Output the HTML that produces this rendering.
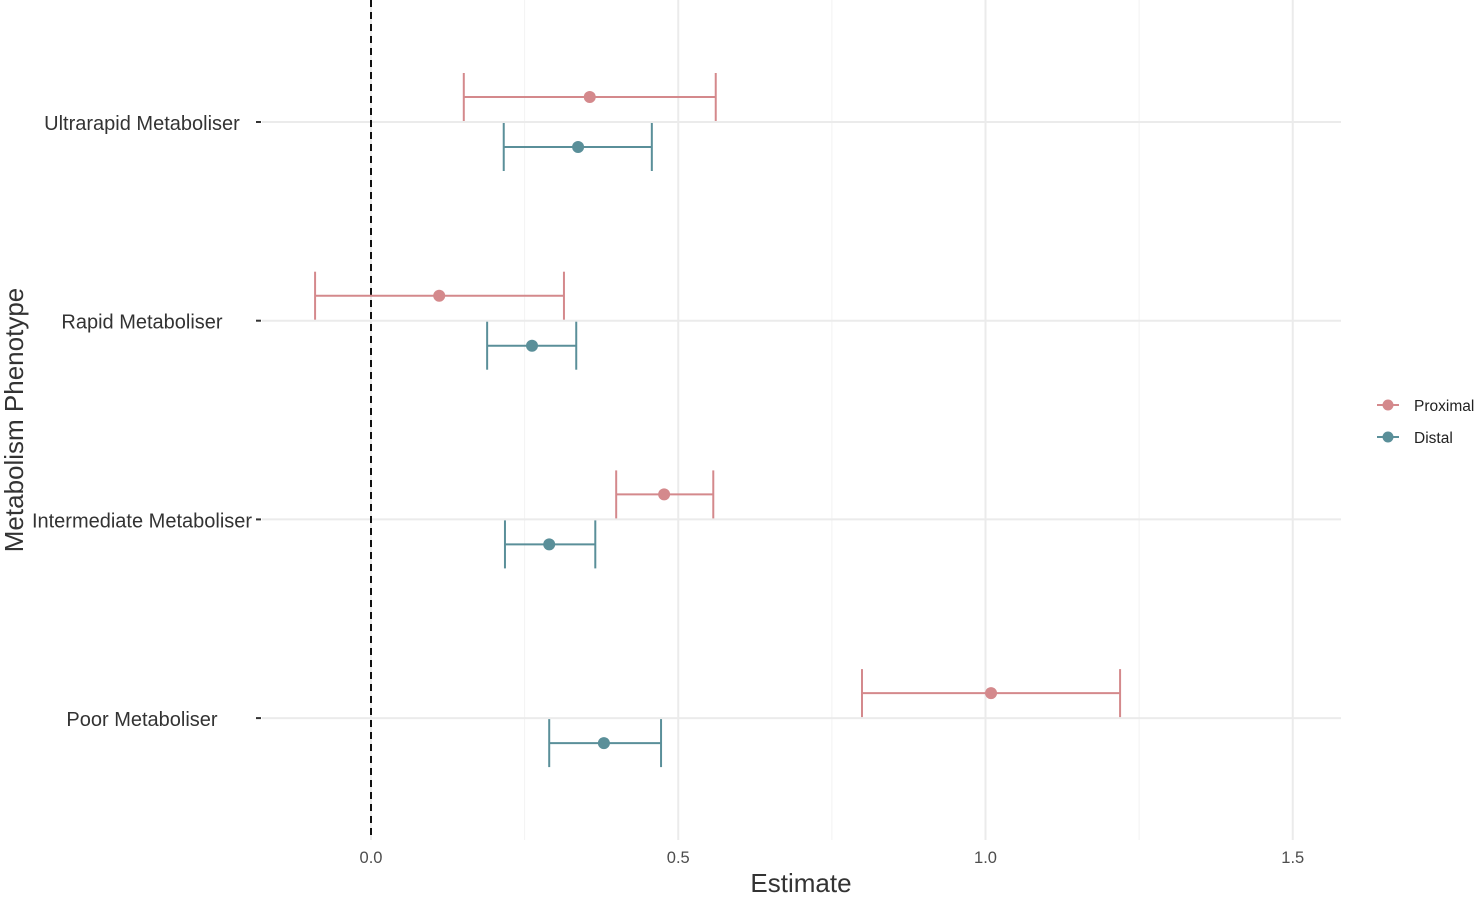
<!DOCTYPE html>
<html><head><meta charset="utf-8"><style>
body{margin:0;background:#fff;font-family:"Liberation Sans",Arial,sans-serif}
</style></head><body>
<svg id="chart" width="1480" height="896" xmlns="http://www.w3.org/2000/svg" font-family="Liberation Sans, Arial, sans-serif">
<g id="grid"></g>
<g id="marks"></g>
<g id="axes"></g>
<text x="801" y="892" font-size="26" fill="#333" text-anchor="middle">Estimate</text>
<text transform="translate(23,420) rotate(-90)" font-size="26" fill="#333" text-anchor="middle">Metabolism Phenotype</text>
<g>
 <g>
  <line x1="1377" x2="1399" y1="405" y2="405" stroke="#d4898c" stroke-width="2"/>
  <circle cx="1388" cy="405" r="5.5" fill="#d4898c"/>
  <text x="1414" y="411" font-size="15.5" fill="#222">Proximal</text>
 </g>
 <g>
  <line x1="1377" x2="1399" y1="437" y2="437" stroke="#5a8f99" stroke-width="2"/>
  <circle cx="1388" cy="437" r="5.5" fill="#5a8f99"/>
  <text x="1414" y="443" font-size="15.5" fill="#222">Distal</text>
 </g>
</g>
</svg>
<script>
const categories=["Ultrarapid Metaboliser","Rapid Metaboliser","Intermediate Metaboliser","Poor Metaboliser"];
const proxEst=[0.356,0.111,0.477,1.009];
const proxLow=[0.151,-0.091,0.399,0.799];
const proxHigh=[0.561,0.314,0.557,1.219];
const distEst=[0.337,0.262,0.290,0.379];
const distLow=[0.216,0.189,0.218,0.290];
const distHigh=[0.457,0.334,0.365,0.472];
const xTicks=[0,0.5,1.0,1.5];
const xTickLabels=["0.0","0.5","1.0","1.5"];
const xMinor=[-0.25,0.25,0.75,1.25];

const NS="http://www.w3.org/2000/svg";
const L=262,R=1341,T=0,B=840;
function xs(v){return 371+v*614.5;}
function ys(i){return 122+i*198.7;}
function mk(tag,attrs,parent){const e=document.createElementNS(NS,tag);for(const k in attrs)e.setAttribute(k,attrs[k]);parent.appendChild(e);return e;}
const grid=document.getElementById('grid'),marks=document.getElementById('marks'),axes=document.getElementById('axes');
xMinor.forEach(v=>{const x=xs(v);if(x<L||x>R)return;
 const l=mk('line',{x1:x,x2:x,y1:T,y2:B,stroke:'#f2f2f2','stroke-width':1},grid);
 
 });
xTicks.forEach((v,i)=>{const x=xs(v);
 const l=mk('line',{x1:x,x2:x,y1:T,y2:B,stroke:'#ebebeb','stroke-width':2},grid);
 
 
 const t=mk('text',{x:x,y:863,'font-size':16.5,fill:'#4d4d4d','text-anchor':'middle'},axes);
 t.textContent=xTickLabels[i];
 
 });
categories.forEach((c,i)=>{const y=ys(i);
 const l=mk('line',{x1:L,x2:R,y1:y,y2:y,stroke:'#ebebeb','stroke-width':2},grid);
 
 
 const tk=mk('line',{x1:256,x2:261,y1:y,y2:y,stroke:'#333','stroke-width':2},axes);
 
 
 const t=mk('text',{x:142,y:y+8,'font-size':20,fill:'#333','text-anchor':'middle'},axes);
 t.textContent=c;
 
 });
const z=mk('line',{x1:xs(0),x2:xs(0),y1:0,y2:B,stroke:'#111','stroke-width':2,'stroke-dasharray':'7,5'},marks);


function series(est,lo,hi,off,col,name){
 categories.forEach((c,i)=>{const y=ys(i)+off;
  const g=mk('g',{},marks);
  
  
  mk('line',{x1:xs(lo[i]),x2:xs(hi[i]),y1:y,y2:y,stroke:col,'stroke-width':2},g);
  mk('line',{x1:xs(lo[i]),x2:xs(lo[i]),y1:y-24,y2:y+24,stroke:col,'stroke-width':2},g);
  mk('line',{x1:xs(hi[i]),x2:xs(hi[i]),y1:y-24,y2:y+24,stroke:col,'stroke-width':2},g);
  mk('circle',{cx:xs(est[i]),cy:y,r:6,fill:col},g);});}
series(proxEst,proxLow,proxHigh,-25,'#d4898c','proximal');
series(distEst,distLow,distHigh,25,'#5a8f99','distal');
</script>
</body></html>
